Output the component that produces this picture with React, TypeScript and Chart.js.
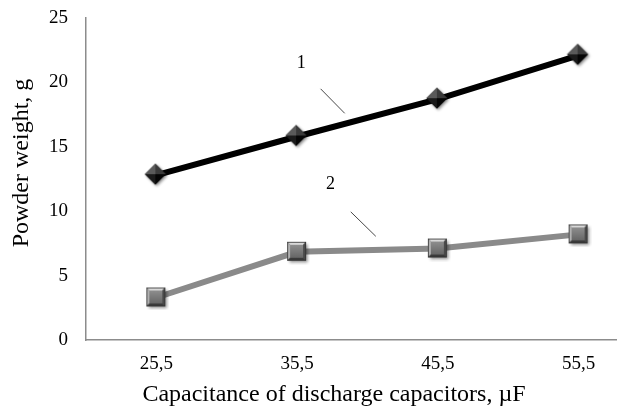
import React, { useEffect, useRef } from "react";
import { Chart, registerables } from "chart.js";

Chart.register(...registerables);

const categories = ["25,5", "35,5", "45,5", "55,5"];
const series1 = [12.8, 15.8, 18.7, 22.1];
const series2 = [3.3, 6.85, 7.1, 8.2];
const yTicks = [0, 5, 10, 15, 20, 25];
const xTitle = "Capacitance of discharge capacitors, \u00b5F";
const yTitle = "Powder weight, g";

const FONT = "'Liberation Serif', 'Times New Roman', serif";

function makeDiamond(): HTMLCanvasElement {
  const c = document.createElement("canvas");
  c.width = 28;
  c.height = 28;
  const g = c.getContext("2d")!;
  const cx = 13, cy = 13, r = 10.5;
  g.save();
  g.shadowColor = "rgba(0,0,0,0.45)";
  g.shadowBlur = 3;
  g.shadowOffsetX = 1.5;
  g.shadowOffsetY = 1.5;
  g.beginPath();
  g.moveTo(cx, cy - r);
  g.lineTo(cx + r, cy);
  g.lineTo(cx, cy + r);
  g.lineTo(cx - r, cy);
  g.closePath();
  g.fillStyle = "#111";
  g.fill();
  g.restore();
  const facets: [number, number, number, number, string][] = [
    [cx - r, cy, cx, cy - r, "#5a5a5a"],
    [cx, cy - r, cx + r, cy, "#3a3a3a"],
    [cx + r, cy, cx, cy + r, "#050505"],
    [cx, cy + r, cx - r, cy, "#1a1a1a"],
  ];
  for (const [x1, y1, x2, y2, col] of facets) {
    g.beginPath();
    g.moveTo(x1, y1);
    g.lineTo(x2, y2);
    g.lineTo(cx, cy);
    g.closePath();
    g.fillStyle = col;
    g.fill();
  }
  return c;
}

function makeSquare(): HTMLCanvasElement {
  const c = document.createElement("canvas");
  c.width = 26;
  c.height = 26;
  const g = c.getContext("2d")!;
  const x0 = 3, y0 = 3, s = 19, b = 3;
  g.save();
  g.shadowColor = "rgba(0,0,0,0.45)";
  g.shadowBlur = 3;
  g.shadowOffsetX = 1.5;
  g.shadowOffsetY = 1.5;
  g.fillStyle = "#555";
  g.fillRect(x0, y0, s, s);
  g.restore();
  const poly = (pts: number[][], col: string) => {
    g.beginPath();
    g.moveTo(pts[0][0], pts[0][1]);
    for (let i = 1; i < pts.length; i++) g.lineTo(pts[i][0], pts[i][1]);
    g.closePath();
    g.fillStyle = col;
    g.fill();
  };
  const x1 = x0 + s, y1 = y0 + s;
  poly([[x0, y0], [x1, y0], [x1 - b, y0 + b], [x0 + b, y0 + b]], "#d8d8d8");
  poly([[x0, y0], [x0 + b, y0 + b], [x0 + b, y1 - b], [x0, y1]], "#b0b0b0");
  poly([[x1, y0], [x1, y1], [x1 - b, y1 - b], [x1 - b, y0 + b]], "#4a4a4a");
  poly([[x0, y1], [x0 + b, y1 - b], [x1 - b, y1 - b], [x1, y1]], "#3a3a3a");
  const grad = g.createLinearGradient(0, y0 + b, 0, y1 - b);
  grad.addColorStop(0, "#8e8e8e");
  grad.addColorStop(1, "#666");
  g.fillStyle = grad;
  g.fillRect(x0 + b, y0 + b, s - 2 * b, s - 2 * b);
  g.strokeStyle = "#333";
  g.lineWidth = 0.8;
  g.strokeRect(x0 + 0.4, y0 + 0.4, s - 0.8, s - 0.8);
  return c;
}

// annotation anchors in data units (category index, value)
const label1 = { text: "1", x: 1.03, y: 21.5, lx1: 1.167, ly1: 19.5, lx2: 1.338, ly2: 17.6 };
const label2 = { text: "2", x: 1.238, y: 12.1, lx1: 1.381, ly1: 9.95, lx2: 1.559, ly2: 8.05 };

export default function App() {
  const ref = useRef<HTMLCanvasElement | null>(null);

  useEffect(() => {
    if (!ref.current) return;
    const annot = {
      id: "annot",
      afterDraw(chart: any) {
        const ctx = chart.ctx;
        const xs = chart.scales.x;
        const ys = chart.scales.y;
        ctx.save();
        for (const a of [label1, label2]) {
          ctx.fillStyle = "#000";
          ctx.font = `18px ${FONT}`;
          ctx.textAlign = "center";
          ctx.textBaseline = "middle";
          ctx.fillText(a.text, xs.getPixelForValue(a.x), ys.getPixelForValue(a.y));
          ctx.beginPath();
          ctx.moveTo(xs.getPixelForValue(a.lx1), ys.getPixelForValue(a.ly1));
          ctx.lineTo(xs.getPixelForValue(a.lx2), ys.getPixelForValue(a.ly2));
          ctx.strokeStyle = "#333";
          ctx.lineWidth = 0.9;
          ctx.stroke();
        }
        // axis titles
        ctx.fillStyle = "#000";
        ctx.font = `24px ${FONT}`;
        ctx.textAlign = "center";
        ctx.textBaseline = "middle";
        ctx.fillText(xTitle, 334, 395);
        ctx.translate(22, 163);
        ctx.rotate(-Math.PI / 2);
        ctx.fillText(yTitle, 0, 0);
        ctx.restore();
      },
    };

    const diamond = makeDiamond();
    const square = makeSquare();

    const chart = new Chart(ref.current, {
      type: "line",
      data: {
        labels: categories,
        datasets: [
          {
            label: "1",
            data: series1,
            borderColor: "#000",
            borderWidth: 6,
            pointStyle: diamond as any,
            pointRadius: 10,
            pointHoverRadius: 10,
          },
          {
            label: "2",
            data: series2,
            borderColor: "#8a8a8a",
            borderWidth: 6,
            pointStyle: square as any,
            pointRadius: 10,
            pointHoverRadius: 10,
          },
        ],
      },
      options: {
        animation: false,
        responsive: false,
        events: [],
        layout: { padding: { left: 0, top: 18, right: 12, bottom: 0 } },
        plugins: { legend: { display: false }, tooltip: { enabled: false } },
        scales: {
          x: {
            type: "category",
            offset: true,
            grid: { display: false, drawTicks: false },
            border: { display: true, color: "#8c8c8c", width: 1.5 },
            ticks: { color: "#000", font: { family: FONT, size: 19 }, padding: 13, maxRotation: 0 },
            afterFit: (s: any) => { s.height = 70; s.paddingLeft = 0; s.paddingRight = 0; },
          },
          y: {
            min: 0,
            max: 25,
            grid: { display: false, drawTicks: false },
            border: { display: true, color: "#8c8c8c", width: 1.5 },
            afterBuildTicks: (s: any) => { s.ticks = yTicks.map((v) => ({ value: v })); },
            ticks: { color: "#000", font: { family: FONT, size: 19 }, padding: 18 },
            afterFit: (s: any) => { s.width = 86; s.paddingTop = 0; s.paddingBottom = 0; },
          },
        },
      },
      plugins: [annot],
    });
    return () => chart.destroy();
  }, []);

  return (
    <div style={{ position: "fixed", left: 0, top: 0, width: 617, height: 410, overflow: "hidden", background: "#fff" }}>
      <canvas ref={ref} width={665} height={410} style={{ width: 665, height: 410, display: "block" }} />
    </div>
  );
}
